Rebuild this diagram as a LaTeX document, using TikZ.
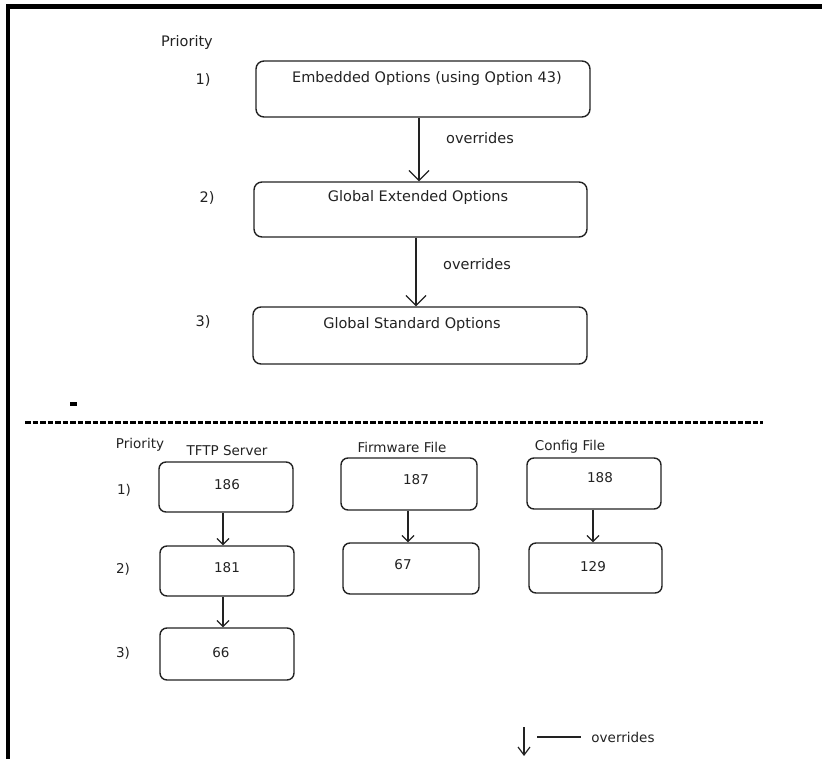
\documentclass[tikz,border=0pt]{standalone}
\usepackage{fontspec}
\setmainfont{DejaVu Sans}
\usetikzlibrary{arrows.meta}
\definecolor{ink}{HTML}{222222}
\tikzset{
  topbox/.style={draw=ink, line width=1.4pt, rounded corners=8pt, inner sep=0pt},
  botbox/.style={draw=ink, line width=1.4pt, rounded corners=7pt, inner sep=0pt, minimum width=134pt},
  toptext/.style={text=ink, inner sep=0pt, font=\fontsize{14.5}{17}\selectfont},
  bottext/.style={text=ink, inner sep=0pt, font=\fontsize{13.5}{16}\selectfont},
  bigarrow/.style={draw=ink, line width=1.2pt, -{Straight Barb[length=10pt,width=20pt,line width=1.2pt]}},
  smallarrow/.style={draw=ink, line width=1.2pt, -{Straight Barb[length=6pt,width=12pt,line width=1.2pt]}},
}
\begin{document}
\begin{tikzpicture}[x=1pt,y=-1pt]
\useasboundingbox (0,0) rectangle (822,759);
% frame
\fill[black] (6,4) rectangle (822,9);
\fill[black] (6,4) rectangle (10,759);

% ---------- top part ----------
\node[toptext] (prio1) at (187,43) {Priority};
\node[toptext] (n1) at (203,80) {1)};
\node[toptext] (n2) at (207,198) {2)};
\node[toptext] (n3) at (203,322) {3)};

\node[topbox, minimum width=334pt, minimum height=56pt] (b1) at (423,89) {};
\node[toptext] (t1) at (427,79) {Embedded Options (using Option 43)};
\node[topbox, minimum width=333pt, minimum height=55pt] (b2) at (420.5,209.5) {};
\node[toptext] (t2) at (418,198) {Global Extended Options};
\node[topbox, minimum width=334pt, minimum height=57pt] (b3) at (420,335.5) {};
\node[toptext] (t3) at (412,325) {Global Standard Options};

\draw[bigarrow] ([xshift=-4pt]b1.south) -- ([xshift=-4pt]b1.south |- b2.north);
\draw[bigarrow] ([xshift=-4.5pt]b2.south) -- ([xshift=-4.5pt]b2.south |- b3.north);
\node[toptext] (ov1) at (480,138) {overrides};
\node[toptext] (ov2) at (477,264) {overrides};

% separator
\fill[black] (70,402) rectangle (77,405.5);
\draw[black, line width=3pt, dash pattern=on 5.5pt off 2pt] (25,422) -- (763,422);

% ---------- bottom part ----------
\node[bottext] (prio2) at (140,445) {Priority};
\node[bottext] (hTFTP) at (227,451) {TFTP Server};
\node[bottext] (hFW) at (402,447) {Firmware File};
\node[bottext] (hCF) at (570,447) {Config File};
\node[bottext] (m1) at (124,490) {1)};
\node[bottext] (m2) at (123,569) {2)};
\node[bottext] (m3) at (123,653) {3)};

\node[botbox, minimum height=50pt] (s1) at (226,487) {};
\node[bottext] (s1t) at (227,485) {186};
\node[botbox, minimum height=50pt] (s2) at (227,571) {};
\node[bottext] (s2t) at (227,568) {181};
\node[botbox, minimum height=52pt] (s3) at (227,654) {};
\node[bottext] (s3t) at (221,653) {66};

\node[botbox, minimum width=136pt, minimum height=52pt] (f1) at (409,484) {};
\node[bottext] (f1t) at (416,480) {187};
\node[botbox, minimum width=136pt, minimum height=51pt] (f2) at (411,568.5) {};
\node[bottext] (f2t) at (403,565) {67};

\node[botbox, minimum height=51pt] (c1) at (594,483.5) {};
\node[bottext] (c1t) at (600,478) {188};
\node[botbox, minimum width=133pt, minimum height=50pt] (c2) at (595.5,568) {};
\node[bottext] (c2t) at (593,567) {129};

\draw[smallarrow] ([xshift=-3pt]s1.south) -- ([xshift=-3pt]s1.south |- s2.north);
\draw[smallarrow] ([xshift=-4pt]s2.south) -- ([xshift=-4pt]s2.south |- s3.north);
\draw[smallarrow] ([xshift=-1pt]f1.south) -- ([xshift=-1pt]f1.south |- f2.north);
\draw[smallarrow] ([xshift=-1pt]c1.south) -- ([xshift=-1pt]c1.south |- c2.north);

% legend
\coordinate (la) at (524,727);
\coordinate (lb) at (524,756);
\coordinate (lc) at (537,737);
\coordinate (ld) at (581,737);
\draw[draw=ink, line width=1.2pt, -{Straight Barb[length=8pt,width=12pt,line width=1.2pt]}] (la) -- (lb);
\draw[draw=ink, line width=1.2pt] (lc) -- (ld);
\node[bottext] (ovleg) at (623,737) {overrides};
\end{tikzpicture}
\end{document}
